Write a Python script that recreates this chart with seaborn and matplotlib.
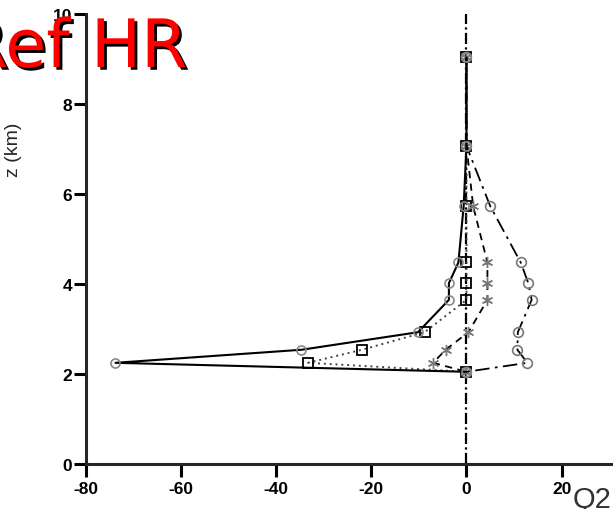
import numpy as np
import pandas as pd
import matplotlib
matplotlib.use("Agg")
import matplotlib.pyplot as plt
import matplotlib.patheffects as pe
import seaborn as sns

# ---- data ---------------------------------------------------------------
z_levels   = [9.04, 7.07, 5.73, 4.48, 4.02, 3.65, 2.93, 2.54, 2.25, 2.05]
q_solid    = [0.0, 0.0, -0.6, -1.7, -3.7, -3.7, -10.2, -34.7, -73.8, 0.0]
q_dotted   = [0.0, 0.0, 0.0, 0.0, 0.0, 0.0, -8.8, -22.0, -33.3, 0.0]
q_dashed   = [0.0, 0.0, 1.4, 4.4, 4.4, 4.4, 0.4, -4.4, -7.0, 0.0]
q_dashdot  = [0.0, 0.0, 5.0, 11.4, 13.0, 13.7, 10.8, 10.7, 12.8, 0.0]

ref_q = [0.0, 0.0]
ref_z = [0.0, 10.0]

x_ticks = [-80, -60, -40, -20, 0, 20]
y_ticks = [0, 2, 4, 6, 8, 10]

# ---- style -----------------------------------------------------------------
sns.set_style("ticks")
plt.rcParams['font.family'] = ['Liberation Sans', 'DejaVu Sans']

fig = plt.figure(figsize=(6.13, 5.10), dpi=100)
ax = fig.add_axes([0.1403, 0.0882, 0.862, 0.882])

# reference line at Q2 = 0
sns.lineplot(x=ref_q, y=ref_z, sort=False, estimator=None, ax=ax,
             color='black', linewidth=1.6, linestyle=(0, (5, 1.5, 1, 1.5)))

common = dict(sort=False, estimator=None, errorbar=None, ax=ax)

sns.lineplot(x=q_dotted, y=z_levels, color='#444444', linewidth=1.4,
             linestyle=(0, (1, 2)), marker='s', markersize=6.5,
             markerfacecolor='none', markeredgecolor='black',
             markeredgewidth=1.3, **common)
sns.lineplot(x=q_dashed, y=z_levels, color='black', linewidth=1.3,
             linestyle=(0, (4, 3)), marker=(6, 2, 0), markersize=8,
             markerfacecolor='none', markeredgecolor='#777777',
             markeredgewidth=1.0, **common)
sns.lineplot(x=q_dashdot, y=z_levels, color='black', linewidth=1.3,
             linestyle=(0, (8, 3, 1.5, 3)), marker='o', markersize=7,
             markerfacecolor='none', markeredgecolor='#777777',
             markeredgewidth=1.2, **common)
sns.lineplot(x=q_solid, y=z_levels, color='black', linewidth=1.5,
             linestyle='-', marker='o', markersize=6.5,
             markerfacecolor='none', markeredgecolor='#888888',
             markeredgewidth=1.2, **common)

# ---- axes ------------------------------------------------------------------
ax.set_xlim(-80, 31.1)
ax.set_ylim(0, 10)
sns.despine(ax=ax)
for side in ['left', 'bottom']:
    ax.spines[side].set_linewidth(2.2)
ax.set_xticks(x_ticks)
ax.set_xticklabels([str(t) for t in x_ticks], fontweight='bold')
ax.set_yticks(y_ticks)
ax.set_yticklabels([str(t) for t in y_ticks], fontweight='bold')
ax.tick_params(axis='both', direction='out', length=9, width=2.2,
               labelsize=12.5, colors='black')
ax.tick_params(axis='x', pad=3)
ax.tick_params(axis='y', pad=1)
ax.set_xlabel('')
ax.set_ylabel('z (km)', fontsize=14)
ax.yaxis.set_label_coords(-0.121, 0.70)

# ---- annotations -----------------------------------------------------------
fig.text(-0.062, 0.8667, 'Ref HR', fontsize=48, color='red',
         family='DejaVu Sans', ha='left', va='baseline',
         path_effects=[pe.SimplePatchShadow(offset=(2, -2),
                                            shadow_rgbFace='black',
                                            alpha=1.0),
                       pe.Normal()])
fig.text(573 / 613, 0.004, 'Q2', fontsize=21, color='#333333',
         ha='left', va='baseline')

plt.savefig('out.png', dpi=100)
